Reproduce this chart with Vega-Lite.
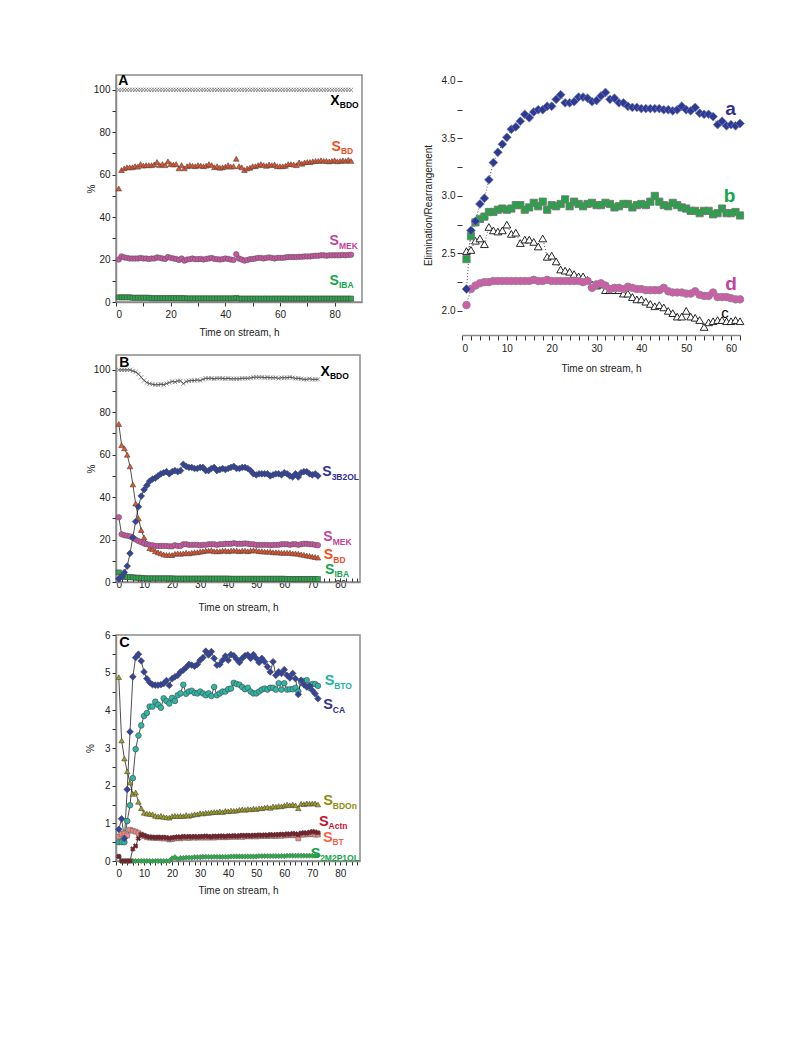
{
"$schema": "https://vega.github.io/schema/vega-lite/v6.json",
"padding": {"left": 84, "top": 72, "right": 5, "bottom": 5},
"background": "white",
"config": {
  "font": "Liberation Sans",
  "view": {"stroke": "#8a8a8a", "strokeWidth": 1.5},
  "axis": {"grid": false, "domainColor": "#8a8a8a", "domainWidth": 1.5, "tickColor": "#333", "labelFontSize": 10, "titleFontSize": 10, "titleFontWeight": "normal", "labelColor": "#222", "titleColor": "#222", "tickSize": 4, "labelFont": "Liberation Sans", "titleFont": "Liberation Sans"}
},
"datasets": {
"A": [
{"t":1,"X":100,"BD":53.5,"MEK":20,"IBA":2.2},{"t":2,"X":100,"BD":62.2,"MEK":21.5,"IBA":2.2},{"t":3,"X":100,"BD":63,"MEK":21,"IBA":2.2},{"t":4,"X":100,"BD":63.5,"MEK":20.8,"IBA":2.2},{"t":5,"X":100,"BD":63.5,"MEK":20.5,"IBA":2.2},
{"t":6,"X":100,"BD":63.5,"MEK":20.5,"IBA":2.0},{"t":7,"X":100,"BD":64,"MEK":20.5,"IBA":2.0},{"t":8,"X":100,"BD":63.8,"MEK":20.5,"IBA":2.0},{"t":9,"X":100,"BD":65,"MEK":20.8,"IBA":2.0},{"t":10,"X":100,"BD":64.3,"MEK":20.5,"IBA":2.0},
{"t":11,"X":100,"BD":64.5,"MEK":20.5,"IBA":2.0},{"t":12,"X":100,"BD":64.5,"MEK":20.3,"IBA":2.0},{"t":13,"X":100,"BD":64.5,"MEK":20.5,"IBA":1.8},{"t":14,"X":100,"BD":64.8,"MEK":20.5,"IBA":1.8},{"t":15,"X":100,"BD":66,"MEK":21,"IBA":1.8},
{"t":16,"X":100,"BD":64.5,"MEK":20.8,"IBA":1.8},{"t":17,"X":100,"BD":65,"MEK":20.5,"IBA":1.8},{"t":18,"X":100,"BD":64.5,"MEK":20.3,"IBA":1.8},{"t":19,"X":100,"BD":66.3,"MEK":21.2,"IBA":1.8},{"t":20,"X":100,"BD":65,"MEK":20.8,"IBA":1.8},
{"t":21,"X":100,"BD":64.8,"MEK":20.5,"IBA":1.8},{"t":22,"X":100,"BD":65,"MEK":20.3,"IBA":1.8},{"t":23,"X":100,"BD":63,"MEK":19.8,"IBA":1.8},{"t":24,"X":100,"BD":64.5,"MEK":20.5,"IBA":1.8},{"t":25,"X":100,"BD":63,"MEK":19.5,"IBA":1.8},
{"t":26,"X":100,"BD":64,"MEK":20,"IBA":1.7},{"t":27,"X":100,"BD":64.5,"MEK":20.2,"IBA":1.7},{"t":28,"X":100,"BD":64.2,"MEK":20.5,"IBA":1.7},{"t":29,"X":100,"BD":64,"MEK":20.2,"IBA":1.7},{"t":30,"X":100,"BD":64.5,"MEK":20.2,"IBA":1.7},
{"t":31,"X":100,"BD":64.3,"MEK":20.3,"IBA":1.7},{"t":32,"X":100,"BD":64,"MEK":20,"IBA":1.7},{"t":33,"X":100,"BD":64.3,"MEK":20.3,"IBA":1.7},{"t":34,"X":100,"BD":65,"MEK":20.5,"IBA":1.7},{"t":35,"X":100,"BD":64.5,"MEK":20.8,"IBA":1.7},
{"t":36,"X":100,"BD":63.5,"MEK":20.3,"IBA":1.7},{"t":37,"X":100,"BD":64,"MEK":20.2,"IBA":1.7},{"t":38,"X":100,"BD":63.3,"MEK":20,"IBA":1.7},{"t":39,"X":100,"BD":63.5,"MEK":20.2,"IBA":1.7},{"t":40,"X":100,"BD":63.8,"MEK":20.5,"IBA":1.7},
{"t":41,"X":100,"BD":64.5,"MEK":20.3,"IBA":1.7},{"t":42,"X":100,"BD":63.8,"MEK":20,"IBA":1.7},{"t":43,"X":100,"BD":64,"MEK":19.8,"IBA":1.7},{"t":44,"X":100,"BD":67.5,"MEK":22.5,"IBA":1.9},{"t":45,"X":100,"BD":64,"MEK":20.5,"IBA":1.6},
{"t":46,"X":100,"BD":63.5,"MEK":20,"IBA":1.6},{"t":47,"X":100,"BD":62.2,"MEK":19.5,"IBA":1.6},{"t":48,"X":100,"BD":63,"MEK":19.8,"IBA":1.6},{"t":49,"X":100,"BD":63.3,"MEK":20.2,"IBA":1.6},{"t":50,"X":100,"BD":64,"MEK":20.3,"IBA":1.6},
{"t":51,"X":100,"BD":64,"MEK":20.5,"IBA":1.6},{"t":52,"X":100,"BD":64.5,"MEK":20.8,"IBA":1.6},{"t":53,"X":100,"BD":65,"MEK":20.8,"IBA":1.6},{"t":54,"X":100,"BD":64.5,"MEK":20.5,"IBA":1.6},{"t":55,"X":100,"BD":64.2,"MEK":20.8,"IBA":1.6},
{"t":56,"X":100,"BD":64.8,"MEK":21,"IBA":1.6},{"t":57,"X":100,"BD":64.5,"MEK":20.8,"IBA":1.6},{"t":58,"X":100,"BD":64.8,"MEK":20.5,"IBA":1.6},{"t":59,"X":100,"BD":64,"MEK":20.8,"IBA":1.6},{"t":60,"X":100,"BD":64,"MEK":20.8,"IBA":1.6},
{"t":61,"X":100,"BD":64,"MEK":20.8,"IBA":1.6},{"t":62,"X":100,"BD":64.2,"MEK":21,"IBA":1.6},{"t":63,"X":100,"BD":65,"MEK":21.2,"IBA":1.6},{"t":64,"X":100,"BD":65,"MEK":21.2,"IBA":1.6},{"t":65,"X":100,"BD":64.8,"MEK":21.2,"IBA":1.6},
{"t":66,"X":100,"BD":64.5,"MEK":21.2,"IBA":1.6},{"t":67,"X":100,"BD":65.8,"MEK":21.3,"IBA":1.6},{"t":68,"X":100,"BD":65.2,"MEK":21.3,"IBA":1.6},{"t":69,"X":100,"BD":65.8,"MEK":21.5,"IBA":1.6},{"t":70,"X":100,"BD":66,"MEK":21.5,"IBA":1.6},
{"t":71,"X":100,"BD":66,"MEK":21.5,"IBA":1.6},{"t":72,"X":100,"BD":66.3,"MEK":21.7,"IBA":1.6},{"t":73,"X":100,"BD":66.5,"MEK":21.8,"IBA":1.6},{"t":74,"X":100,"BD":66.5,"MEK":21.8,"IBA":1.6},{"t":75,"X":100,"BD":66.8,"MEK":22,"IBA":1.6},
{"t":76,"X":100,"BD":66.5,"MEK":22,"IBA":1.6},{"t":77,"X":100,"BD":66.5,"MEK":21.8,"IBA":1.6},{"t":78,"X":100,"BD":66.3,"MEK":22,"IBA":1.6},{"t":79,"X":100,"BD":66.5,"MEK":22,"IBA":1.6},{"t":80,"X":100,"BD":66.8,"MEK":22,"IBA":1.6},
{"t":81,"X":100,"BD":66.3,"MEK":22,"IBA":1.6},{"t":82,"X":100,"BD":66.5,"MEK":22,"IBA":1.6},{"t":83,"X":100,"BD":66.8,"MEK":22.2,"IBA":1.6},{"t":84,"X":100,"BD":66.5,"MEK":22,"IBA":1.6},{"t":85,"X":100,"BD":67,"MEK":22.2,"IBA":1.6},
{"t":86,"X":100,"BD":66.5,"MEK":22.3,"IBA":1.6}
],
"B": [
{"t":1,"X":100,"BD":74.5,"MEK":30.5,"OL":1.5,"IBA":4.5},{"t":2,"X":100,"BD":64.5,"MEK":22.5,"OL":2.5,"IBA":2.5},{"t":3,"X":100,"BD":63,"MEK":22,"OL":4.5,"IBA":2.5},{"t":4,"X":100,"BD":60,"MEK":21.8,"OL":7.5,"IBA":2.3},{"t":5,"X":100,"BD":54.5,"MEK":21.5,"OL":13.5,"IBA":2.3},
{"t":6,"X":99.5,"BD":46,"MEK":20.8,"OL":21,"IBA":2.2},{"t":7,"X":99,"BD":37,"MEK":20,"OL":28.5,"IBA":2},{"t":8,"X":98,"BD":30,"MEK":19.3,"OL":35.5,"IBA":2},{"t":9,"X":96.5,"BD":24.5,"MEK":18.7,"OL":40.5,"IBA":1.9},{"t":10,"X":95,"BD":21,"MEK":18.2,"OL":43.5,"IBA":1.8},
{"t":11,"X":94,"BD":18,"MEK":17.8,"OL":45.5,"IBA":1.7},{"t":12,"X":93.5,"BD":16,"MEK":17.5,"OL":47.5,"IBA":1.7},{"t":13,"X":93.2,"BD":15.5,"MEK":17.3,"OL":48.5,"IBA":1.7},{"t":14,"X":93,"BD":14.5,"MEK":17,"OL":49,"IBA":1.7},{"t":15,"X":93,"BD":14,"MEK":17,"OL":50,"IBA":1.7},
{"t":16,"X":93.2,"BD":13.5,"MEK":17,"OL":51,"IBA":1.7},{"t":17,"X":93,"BD":13,"MEK":17,"OL":51.5,"IBA":1.7},{"t":18,"X":93.5,"BD":12.8,"MEK":17,"OL":52,"IBA":1.7},{"t":19,"X":94,"BD":12.8,"MEK":16.8,"OL":51,"IBA":1.7},{"t":20,"X":94.5,"BD":12.7,"MEK":16.8,"OL":52,"IBA":1.7},
{"t":21,"X":94.3,"BD":13.3,"MEK":17.3,"OL":52.5,"IBA":1.6},{"t":22,"X":94.8,"BD":13.5,"MEK":17,"OL":52,"IBA":1.6},{"t":23,"X":94.8,"BD":13.3,"MEK":17,"OL":52.5,"IBA":1.6},{"t":24,"X":93.5,"BD":13.5,"MEK":17.8,"OL":55.5,"IBA":1.6},{"t":25,"X":94.5,"BD":13.8,"MEK":17.8,"OL":54.5,"IBA":1.6},
{"t":26,"X":94.8,"BD":13.5,"MEK":17.5,"OL":54,"IBA":1.6},{"t":27,"X":95,"BD":13.8,"MEK":17.5,"OL":54,"IBA":1.6},{"t":28,"X":95,"BD":14,"MEK":17.5,"OL":53.5,"IBA":1.6},{"t":29,"X":95.2,"BD":14,"MEK":17.5,"OL":53.5,"IBA":1.6},{"t":30,"X":95,"BD":14.3,"MEK":17.3,"OL":54,"IBA":1.6},
{"t":31,"X":95.5,"BD":14.5,"MEK":17.5,"OL":54,"IBA":1.6},{"t":32,"X":96,"BD":14.8,"MEK":17.5,"OL":52.5,"IBA":1.6},{"t":33,"X":96,"BD":14.8,"MEK":17.8,"OL":52.5,"IBA":1.6},{"t":34,"X":96,"BD":15,"MEK":17.8,"OL":53.5,"IBA":1.6},{"t":35,"X":95.8,"BD":14.5,"MEK":17.8,"OL":54,"IBA":1.6},
{"t":36,"X":96,"BD":14.5,"MEK":17.5,"OL":52.5,"IBA":1.6},{"t":37,"X":96,"BD":14.5,"MEK":17.8,"OL":53,"IBA":1.6},{"t":38,"X":96,"BD":14.8,"MEK":17.8,"OL":53.5,"IBA":1.6},{"t":39,"X":95.8,"BD":14.8,"MEK":18,"OL":53,"IBA":1.6},{"t":40,"X":96,"BD":14.5,"MEK":18,"OL":53.5,"IBA":1.6},
{"t":41,"X":95.8,"BD":14.8,"MEK":18,"OL":54,"IBA":1.5},{"t":42,"X":95.8,"BD":14.8,"MEK":18.3,"OL":54.5,"IBA":1.5},{"t":43,"X":95.8,"BD":14.8,"MEK":18,"OL":53.5,"IBA":1.5},{"t":44,"X":95.8,"BD":14.5,"MEK":18,"OL":53.5,"IBA":1.5},{"t":45,"X":96,"BD":14.8,"MEK":18,"OL":54,"IBA":1.5},
{"t":46,"X":96,"BD":14.8,"MEK":18.2,"OL":54,"IBA":1.5},{"t":47,"X":96,"BD":14.5,"MEK":18,"OL":53.5,"IBA":1.5},{"t":48,"X":96.2,"BD":14.8,"MEK":17.8,"OL":52.5,"IBA":1.5},{"t":49,"X":96.5,"BD":15,"MEK":17.8,"OL":51,"IBA":1.5},{"t":50,"X":96.5,"BD":14.8,"MEK":17.5,"OL":50.5,"IBA":1.5},
{"t":51,"X":96.5,"BD":14.5,"MEK":17.5,"OL":51,"IBA":1.5},{"t":52,"X":96.5,"BD":14.5,"MEK":17.5,"OL":51,"IBA":1.5},{"t":53,"X":96.3,"BD":14.3,"MEK":17.5,"OL":51,"IBA":1.5},{"t":54,"X":96.5,"BD":14.3,"MEK":17.5,"OL":51,"IBA":1.5},{"t":55,"X":96.3,"BD":14.3,"MEK":17.3,"OL":50,"IBA":1.5},
{"t":56,"X":96.3,"BD":14,"MEK":17.5,"OL":50.5,"IBA":1.5},{"t":57,"X":96.3,"BD":14,"MEK":17.5,"OL":51,"IBA":1.5},{"t":58,"X":96,"BD":14,"MEK":17.5,"OL":51,"IBA":1.5},{"t":59,"X":96.3,"BD":13.8,"MEK":17.8,"OL":50.5,"IBA":1.5},{"t":60,"X":96.3,"BD":13.8,"MEK":17.8,"OL":51.5,"IBA":1.5},
{"t":61,"X":96.3,"BD":13.8,"MEK":17.8,"OL":51,"IBA":1.4},{"t":62,"X":96.5,"BD":13.8,"MEK":17.5,"OL":50,"IBA":1.4},{"t":63,"X":96.3,"BD":13.5,"MEK":17.8,"OL":49.5,"IBA":1.4},{"t":64,"X":96,"BD":13.5,"MEK":17.8,"OL":51,"IBA":1.4},{"t":65,"X":96,"BD":13.3,"MEK":17.5,"OL":49.5,"IBA":1.4},
{"t":66,"X":95.8,"BD":13,"MEK":17.8,"OL":51.5,"IBA":1.4},{"t":67,"X":95.5,"BD":12.8,"MEK":18,"OL":52,"IBA":1.4},{"t":68,"X":95.5,"BD":12.5,"MEK":18,"OL":52,"IBA":1.4},{"t":69,"X":95.8,"BD":12.3,"MEK":17.8,"OL":51,"IBA":1.4},{"t":70,"X":95.5,"BD":12,"MEK":17.8,"OL":50.5,"IBA":1.4},
{"t":71,"X":95.5,"BD":11.8,"MEK":17.5,"OL":51,"IBA":1.4},{"t":72,"X":95.5,"BD":11.5,"MEK":17.3,"OL":50,"IBA":1.4}
],
"C": [
{"t":1,"CA":0.84,"BTO":0.5,"BDOn":4.88,"Actn":0.12,"BT":0.65,"M2":0.12},{"t":2,"CA":1.12,"BTO":0.5,"BDOn":3.2,"Actn":0,"BT":0.72,"M2":0},{"t":3,"CA":0.6,"BTO":0.5,"BDOn":2.72,"Actn":0,"BT":0.73,"M2":0},{"t":4,"CA":1.9,"BTO":1.06,"BDOn":2.38,"Actn":0,"BT":0.68,"M2":0},{"t":5,"CA":3.43,"BTO":1.48,"BDOn":2.08,"Actn":0,"BT":0.83,"M2":0},
{"t":6,"CA":4.89,"BTO":2.2,"BDOn":1.78,"Actn":0.32,"BT":0.8,"M2":0},{"t":7,"CA":5.4,"BTO":2.97,"BDOn":1.82,"Actn":0.4,"BT":0.78,"M2":0},{"t":8,"CA":5.49,"BTO":3.33,"BDOn":1.57,"Actn":0.6,"BT":0.74,"M2":0},{"t":9,"CA":5.31,"BTO":3.6,"BDOn":1.4,"Actn":0.7,"BT":0.7,"M2":0},{"t":10,"CA":5.02,"BTO":3.85,"BDOn":1.28,"Actn":0.68,"BT":0.66,"M2":0},
{"t":11,"CA":4.84,"BTO":3.93,"BDOn":1.26,"Actn":0.65,"BT":0.63,"M2":0},{"t":12,"CA":4.74,"BTO":4.1,"BDOn":1.25,"Actn":0.63,"BT":0.62,"M2":0},{"t":13,"CA":4.68,"BTO":4.1,"BDOn":1.24,"Actn":0.63,"BT":0.62,"M2":0},{"t":14,"CA":4.67,"BTO":4.23,"BDOn":1.2,"Actn":0.62,"BT":0.61,"M2":0},{"t":15,"CA":4.67,"BTO":4.15,"BDOn":1.18,"Actn":0.63,"BT":0.62,"M2":0},
{"t":16,"CA":4.68,"BTO":4.07,"BDOn":1.2,"Actn":0.62,"BT":0.6,"M2":0},{"t":17,"CA":4.71,"BTO":4.32,"BDOn":1.17,"Actn":0.63,"BT":0.6,"M2":0},{"t":18,"CA":4.79,"BTO":4.25,"BDOn":1.16,"Actn":0.62,"BT":0.6,"M2":0},{"t":19,"CA":4.66,"BTO":4.18,"BDOn":1.15,"Actn":0.6,"BT":0.57,"M2":0},{"t":20,"CA":4.84,"BTO":4.33,"BDOn":1.19,"Actn":0.62,"BT":0.58,"M2":0.07},
{"t":21,"CA":4.89,"BTO":4.25,"BDOn":1.2,"Actn":0.63,"BT":0.6,"M2":0.1},{"t":22,"CA":4.93,"BTO":4.4,"BDOn":1.19,"Actn":0.64,"BT":0.61,"M2":0.05},{"t":23,"CA":5.02,"BTO":4.45,"BDOn":1.2,"Actn":0.63,"BT":0.6,"M2":0.08},{"t":24,"CA":5.07,"BTO":4.68,"BDOn":1.19,"Actn":0.65,"BT":0.62,"M2":0.08},{"t":25,"CA":5.14,"BTO":4.44,"BDOn":1.22,"Actn":0.64,"BT":0.62,"M2":0.09},
{"t":26,"CA":5.22,"BTO":4.5,"BDOn":1.2,"Actn":0.65,"BT":0.61,"M2":0.09},{"t":27,"CA":5.2,"BTO":4.52,"BDOn":1.22,"Actn":0.64,"BT":0.63,"M2":0.09},{"t":28,"CA":5.17,"BTO":4.46,"BDOn":1.24,"Actn":0.65,"BT":0.62,"M2":0.1},{"t":29,"CA":5.22,"BTO":4.45,"BDOn":1.24,"Actn":0.64,"BT":0.62,"M2":0.1},{"t":30,"CA":5.33,"BTO":4.5,"BDOn":1.27,"Actn":0.65,"BT":0.63,"M2":0.1},
{"t":31,"CA":5.4,"BTO":4.45,"BDOn":1.26,"Actn":0.65,"BT":0.62,"M2":0.11},{"t":32,"CA":5.57,"BTO":4.4,"BDOn":1.28,"Actn":0.66,"BT":0.63,"M2":0.11},{"t":33,"CA":5.47,"BTO":4.45,"BDOn":1.28,"Actn":0.65,"BT":0.62,"M2":0.11},{"t":34,"CA":5.56,"BTO":4.38,"BDOn":1.29,"Actn":0.64,"BT":0.63,"M2":0.11},{"t":35,"CA":5.38,"BTO":4.62,"BDOn":1.3,"Actn":0.66,"BT":0.62,"M2":0.11},
{"t":36,"CA":5.2,"BTO":4.4,"BDOn":1.3,"Actn":0.65,"BT":0.64,"M2":0.11},{"t":37,"CA":5.22,"BTO":4.45,"BDOn":1.32,"Actn":0.66,"BT":0.63,"M2":0.11},{"t":38,"CA":5.33,"BTO":4.5,"BDOn":1.3,"Actn":0.66,"BT":0.64,"M2":0.11},{"t":39,"CA":5.44,"BTO":4.5,"BDOn":1.33,"Actn":0.65,"BT":0.63,"M2":0.11},{"t":40,"CA":5.33,"BTO":4.56,"BDOn":1.32,"Actn":0.67,"BT":0.64,"M2":0.11},
{"t":41,"CA":5.48,"BTO":4.58,"BDOn":1.34,"Actn":0.66,"BT":0.64,"M2":0.12},{"t":42,"CA":5.45,"BTO":4.73,"BDOn":1.33,"Actn":0.67,"BT":0.65,"M2":0.12},{"t":43,"CA":5.36,"BTO":4.7,"BDOn":1.34,"Actn":0.66,"BT":0.64,"M2":0.12},{"t":44,"CA":5.27,"BTO":4.68,"BDOn":1.36,"Actn":0.67,"BT":0.65,"M2":0.12},{"t":45,"CA":5.38,"BTO":4.62,"BDOn":1.37,"Actn":0.68,"BT":0.64,"M2":0.12},
{"t":46,"CA":5.45,"BTO":4.56,"BDOn":1.36,"Actn":0.67,"BT":0.65,"M2":0.12},{"t":47,"CA":5.47,"BTO":4.6,"BDOn":1.38,"Actn":0.68,"BT":0.66,"M2":0.12},{"t":48,"CA":5.38,"BTO":4.5,"BDOn":1.37,"Actn":0.67,"BT":0.65,"M2":0.12},{"t":49,"CA":5.48,"BTO":4.45,"BDOn":1.39,"Actn":0.68,"BT":0.66,"M2":0.12},{"t":50,"CA":5.38,"BTO":4.45,"BDOn":1.38,"Actn":0.68,"BT":0.65,"M2":0.12},
{"t":51,"CA":5.27,"BTO":4.5,"BDOn":1.4,"Actn":0.69,"BT":0.66,"M2":0.13},{"t":52,"CA":5.38,"BTO":4.55,"BDOn":1.4,"Actn":0.68,"BT":0.66,"M2":0.13},{"t":53,"CA":5.29,"BTO":4.58,"BDOn":1.42,"Actn":0.69,"BT":0.67,"M2":0.13},{"t":54,"CA":5.16,"BTO":4.55,"BDOn":1.43,"Actn":0.68,"BT":0.66,"M2":0.13},{"t":55,"CA":5.02,"BTO":4.6,"BDOn":1.41,"Actn":0.7,"BT":0.67,"M2":0.13},
{"t":56,"CA":5.29,"BTO":4.6,"BDOn":1.45,"Actn":0.69,"BT":0.67,"M2":0.13},{"t":57,"CA":4.93,"BTO":4.55,"BDOn":1.44,"Actn":0.7,"BT":0.66,"M2":0.13},{"t":58,"CA":5.02,"BTO":4.72,"BDOn":1.46,"Actn":0.7,"BT":0.68,"M2":0.13},{"t":59,"CA":4.98,"BTO":4.55,"BDOn":1.45,"Actn":0.71,"BT":0.67,"M2":0.13},{"t":60,"CA":5.08,"BTO":4.72,"BDOn":1.47,"Actn":0.7,"BT":0.68,"M2":0.13},
{"t":61,"CA":4.93,"BTO":4.55,"BDOn":1.5,"Actn":0.72,"BT":0.68,"M2":0.14},{"t":62,"CA":4.86,"BTO":4.56,"BDOn":1.48,"Actn":0.71,"BT":0.69,"M2":0.14},{"t":63,"CA":4.98,"BTO":4.56,"BDOn":1.5,"Actn":0.73,"BT":0.68,"M2":0.14},{"t":64,"CA":4.84,"BTO":4.6,"BDOn":1.48,"Actn":0.72,"BT":0.69,"M2":0.14},{"t":65,"CA":4.42,"BTO":4.5,"BDOn":1.4,"Actn":0.7,"BT":0.6,"M2":0.14},
{"t":66,"CA":4.8,"BTO":4.75,"BDOn":1.52,"Actn":0.74,"BT":0.7,"M2":0.14},{"t":67,"CA":4.68,"BTO":4.78,"BDOn":1.51,"Actn":0.75,"BT":0.7,"M2":0.14},{"t":68,"CA":4.62,"BTO":4.8,"BDOn":1.53,"Actn":0.74,"BT":0.71,"M2":0.14},{"t":69,"CA":4.65,"BTO":4.6,"BDOn":1.52,"Actn":0.76,"BT":0.71,"M2":0.14},{"t":70,"CA":4.53,"BTO":4.7,"BDOn":1.53,"Actn":0.78,"BT":0.72,"M2":0.14},
{"t":71,"CA":4.44,"BTO":4.7,"BDOn":1.53,"Actn":0.77,"BT":0.7,"M2":0.14},{"t":72,"CA":4.31,"BTO":4.65,"BDOn":1.5,"Actn":0.75,"BT":0.7,"M2":0.15}
],
"D": [
{"t":1,"a":2.19,"b":2.45,"c":2.52,"d":2.05},{"t":2,"a":2.7,"b":2.65,"c":2.53,"d":2.19},{"t":3,"a":2.78,"b":2.77,"c":2.61,"d":2.22},{"t":4,"a":2.93,"b":2.8,"c":2.63,"d":2.24},{"t":5,"a":2.98,"b":2.82,"c":2.58,"d":2.25},
{"t":6,"a":3.14,"b":2.86,"c":2.73,"d":2.25},{"t":7,"a":3.29,"b":2.86,"c":2.7,"d":2.26},{"t":8,"a":3.38,"b":2.88,"c":2.69,"d":2.26},{"t":9,"a":3.45,"b":2.89,"c":2.7,"d":2.26},{"t":10,"a":3.51,"b":2.88,"c":2.75,"d":2.26},
{"t":11,"a":3.58,"b":2.89,"c":2.67,"d":2.26},{"t":12,"a":3.6,"b":2.92,"c":2.68,"d":2.26},{"t":13,"a":3.65,"b":2.92,"c":2.59,"d":2.26},{"t":14,"a":3.71,"b":2.88,"c":2.62,"d":2.26},{"t":15,"a":3.68,"b":2.9,"c":2.62,"d":2.26},
{"t":16,"a":3.73,"b":2.94,"c":2.6,"d":2.27},{"t":17,"a":3.75,"b":2.91,"c":2.56,"d":2.26},{"t":18,"a":3.75,"b":2.95,"c":2.63,"d":2.26},{"t":19,"a":3.78,"b":2.88,"c":2.47,"d":2.27},{"t":20,"a":3.78,"b":2.92,"c":2.48,"d":2.26},
{"t":21,"a":3.84,"b":2.91,"c":2.43,"d":2.26},{"t":22,"a":3.88,"b":2.93,"c":2.36,"d":2.26},{"t":23,"a":3.81,"b":2.97,"c":2.35,"d":2.26},{"t":24,"a":3.81,"b":2.91,"c":2.34,"d":2.26},{"t":25,"a":3.82,"b":2.95,"c":2.32,"d":2.26},
{"t":26,"a":3.86,"b":2.93,"c":2.3,"d":2.26},{"t":27,"a":3.86,"b":2.91,"c":2.3,"d":2.25},{"t":28,"a":3.85,"b":2.93,"c":2.27,"d":2.26},{"t":29,"a":3.82,"b":2.94,"c":2.23,"d":2.2},{"t":30,"a":3.83,"b":2.92,"c":2.22,"d":2.23},
{"t":31,"a":3.87,"b":2.92,"c":2.23,"d":2.24},{"t":32,"a":3.9,"b":2.94,"c":2.18,"d":2.22},{"t":33,"a":3.84,"b":2.93,"c":2.18,"d":2.19},{"t":34,"a":3.85,"b":2.9,"c":2.18,"d":2.2},{"t":35,"a":3.81,"b":2.91,"c":2.18,"d":2.2},
{"t":36,"a":3.81,"b":2.93,"c":2.15,"d":2.19},{"t":37,"a":3.78,"b":2.93,"c":2.15,"d":2.21},{"t":38,"a":3.77,"b":2.9,"c":2.12,"d":2.2},{"t":39,"a":3.77,"b":2.92,"c":2.1,"d":2.19},{"t":40,"a":3.76,"b":2.93,"c":2.1,"d":2.19},
{"t":41,"a":3.76,"b":2.92,"c":2.08,"d":2.18},{"t":42,"a":3.76,"b":2.95,"c":2.06,"d":2.18},{"t":43,"a":3.76,"b":3.0,"c":2.04,"d":2.18},{"t":44,"a":3.76,"b":2.95,"c":2.05,"d":2.18},{"t":45,"a":3.75,"b":2.92,"c":2.03,"d":2.2},
{"t":46,"a":3.75,"b":2.91,"c":2.0,"d":2.17},{"t":47,"a":3.74,"b":2.94,"c":1.98,"d":2.16},{"t":48,"a":3.75,"b":2.92,"c":1.95,"d":2.16},{"t":49,"a":3.78,"b":2.9,"c":1.95,"d":2.16},{"t":50,"a":3.75,"b":2.89,"c":2.0,"d":2.15},
{"t":51,"a":3.74,"b":2.87,"c":1.95,"d":2.15},{"t":52,"a":3.77,"b":2.87,"c":1.94,"d":2.17},{"t":53,"a":3.72,"b":2.85,"c":1.92,"d":2.14},{"t":54,"a":3.71,"b":2.87,"c":1.86,"d":2.13},{"t":55,"a":3.71,"b":2.87,"c":1.9,"d":2.13},
{"t":56,"a":3.69,"b":2.84,"c":1.91,"d":2.16},{"t":57,"a":3.62,"b":2.85,"c":1.92,"d":2.12},{"t":58,"a":3.65,"b":2.89,"c":1.92,"d":2.12},{"t":59,"a":3.61,"b":2.85,"c":1.91,"d":2.12},{"t":60,"a":3.62,"b":2.85,"c":1.91,"d":2.11},
{"t":61,"a":3.61,"b":2.86,"c":1.92,"d":2.1},{"t":62,"a":3.63,"b":2.83,"c":1.91,"d":2.1}
],
"labels": [
{"p":"A","name":"K","main":"A","sub":"","t":0.8,"value":104.3},
{"p":"A","name":"XBDO","main":"X","sub":"BDO","t":78.4,"value":94.9},
{"p":"A","name":"BD","main":"S","sub":"BD","t":78.8,"value":73.2},
{"p":"A","name":"MEK","main":"S","sub":"MEK","t":78.1,"value":28.6},
{"p":"A","name":"IBA","main":"S","sub":"IBA","t":78.1,"value":10.1},
{"p":"B","name":"K","main":"B","sub":"","t":1.2,"value":103.3},
{"p":"B","name":"XBDO","main":"X","sub":"BDO","t":72.9,"value":99.2},
{"p":"B","name":"OL","main":"S","sub":"3B2OL","t":73.5,"value":51.7},
{"p":"B","name":"MEK","main":"S","sub":"MEK","t":73.9,"value":21.2},
{"p":"B","name":"BD","main":"S","sub":"BD","t":74.1,"value":12.7},
{"p":"B","name":"IBA","main":"S","sub":"IBA","t":74.5,"value":5.8},
{"p":"C","name":"K","main":"C","sub":"","t":1.2,"value":5.8},
{"p":"C","name":"BTO","main":"S","sub":"BTO","t":74.4,"value":4.77},
{"p":"C","name":"CA","main":"S","sub":"CA","t":73.9,"value":4.13},
{"p":"C","name":"BDOn","main":"S","sub":"BDOn","t":73.9,"value":1.58},
{"p":"C","name":"Actn","main":"S","sub":"Actn","t":72.4,"value":1.04},
{"p":"C","name":"BT","main":"S","sub":"BT","t":73.8,"value":0.62},
{"p":"C","name":"M2","main":"S","sub":"2M2P1OL","t":69.4,"value":0.195},
{"p":"D","name":"a","main":"a","sub":"","t":58.7,"value":3.76},
{"p":"D","name":"b","main":"b","sub":"","t":58.4,"value":3.0},
{"p":"D","name":"d","main":"d","sub":"","t":58.7,"value":2.23},
{"p":"D","name":"c","main":"c","sub":"","t":57.8,"value":1.985}
]
},
"concat": [
{
"vconcat": [
{
"width": 246, "height": 227,
"data": {"name": "A"},
"encoding": {
  "x": {"field": "t", "type": "quantitative", "title": "Time on stream, h", "scale": {"domain": [0, 90], "nice": false}, "axis": {"values": [0,10,20,30,40,50,60,70,80], "labelExpr": "datum.value % 20 == 0 ? datum.label : ''", "labelPadding": 3, "titlePadding": 8}},
  "y": {"field": "value", "type": "quantitative", "title": "%", "scale": {"domain": [0, 107], "nice": false}, "axis": {"values": [0,10,20,30,40,50,60,70,80,90,100], "labelExpr": "datum.value % 20 == 0 ? datum.label : ''", "labelPadding": 2, "titlePadding": -3}}
},
"layer": [
  {"transform": [{"fold": ["X"]}], "mark": {"type": "point", "shape": "M-1,-1L1,1M-1,1L1,-1", "filled": false, "stroke": "#555", "strokeWidth": 0.9, "size": 18}},
  {"transform": [{"fold": ["BD"]}], "mark": {"type": "point", "shape": "triangle-up", "filled": true, "fill": "#e8532a", "stroke": "#444", "strokeWidth": 0.6, "size": 32, "opacity": 1}},
  {"transform": [{"fold": ["MEK"]}], "mark": {"type": "point", "shape": "circle", "filled": true, "fill": "#cc55a3", "stroke": "#555", "strokeWidth": 0.6, "size": 30, "opacity": 1}},
  {"transform": [{"fold": ["IBA"]}], "mark": {"type": "point", "shape": "square", "filled": true, "fill": "#2aa84a", "stroke": "#444", "strokeWidth": 0.6, "size": 25, "opacity": 1}},
  {"data": {"name": "labels"}, "transform": [{"filter": "datum.p == 'A'"}], "mark": {"type": "text", "align": "left", "baseline": "middle", "fontSize": 14, "fontWeight": "bold"}, "encoding": {"text": {"field": "main"}, "color": {"field": "name", "type": "nominal", "legend": null, "scale": {"domain": ["K","XBDO","BD","MEK","IBA","OL","BTO","CA","BDOn","Actn","BT","M2","a","b","c","d"], "range": ["#000000","#000000","#f04e23","#c2439a","#13a54a","#2e3192","#21b3a3","#2e3192","#8f8c0e","#c41230","#f26449","#13a54a","#2e3192","#13a54a","#000000","#c2439a"]}}}},
  {"data": {"name": "labels"}, "transform": [{"filter": "datum.p == 'A'"}], "mark": {"type": "text", "align": "left", "baseline": "middle", "fontSize": 8.5, "fontWeight": "bold", "dx": 9.5, "dy": 4.5}, "encoding": {"text": {"field": "sub"}, "color": {"field": "name", "type": "nominal", "legend": null, "scale": {"domain": ["K","XBDO","BD","MEK","IBA","OL","BTO","CA","BDOn","Actn","BT","M2","a","b","c","d"], "range": ["#000000","#000000","#f04e23","#c2439a","#13a54a","#2e3192","#21b3a3","#2e3192","#8f8c0e","#c41230","#f26449","#13a54a","#2e3192","#13a54a","#000000","#c2439a"]}}}}
]
},
{
"width": 244, "height": 227,
"data": {"name": "B"},
"encoding": {
  "x": {"field": "t", "type": "quantitative", "title": "Time on stream, h", "scale": {"domain": [0, 87], "nice": false}, "axis": {"values": [0,2,4,6,8,10,12,14,16,18,20,22,24,26,28,30,32,34,36,38,40,42,44,46,48,50,52,54,56,58,60,62,64,66,68,70,72,74,76,78,80,82,84,86], "labelExpr": "datum.value % 10 == 0 ? datum.label : ''", "tickSize": -4, "labelPadding": 1, "titlePadding": 13}},
  "y": {"field": "value", "type": "quantitative", "title": "%", "scale": {"domain": [0, 107], "nice": false}, "axis": {"values": [0,10,20,30,40,50,60,70,80,90,100], "labelExpr": "datum.value % 20 == 0 ? datum.label : ''", "labelPadding": 2, "titlePadding": -3}}
},
"layer": [
  {"transform": [{"fold": ["X"]}], "mark": {"type": "line", "color": "#222", "strokeWidth": 0.8}},
  {"transform": [{"fold": ["BD"]}], "mark": {"type": "line", "color": "#222", "strokeWidth": 0.8}},
  {"transform": [{"fold": ["MEK"]}], "mark": {"type": "line", "color": "#222", "strokeWidth": 0.8}},
  {"transform": [{"fold": ["OL"]}], "mark": {"type": "line", "color": "#222", "strokeWidth": 0.8}},
  {"transform": [{"fold": ["IBA"]}], "mark": {"type": "line", "color": "#222", "strokeWidth": 0.8}},
  {"transform": [{"fold": ["X"]}], "mark": {"type": "point", "shape": "M-1,-1L1,1M-1,1L1,-1", "filled": false, "stroke": "#555", "strokeWidth": 0.9, "size": 18}},
  {"transform": [{"fold": ["IBA"]}], "mark": {"type": "point", "shape": "square", "filled": true, "fill": "#2aa84a", "stroke": "#444", "strokeWidth": 0.6, "size": 26, "opacity": 1}},
  {"transform": [{"fold": ["BD"]}], "mark": {"type": "point", "shape": "triangle-up", "filled": true, "fill": "#e8532a", "stroke": "#444", "strokeWidth": 0.6, "size": 32, "opacity": 1}},
  {"transform": [{"fold": ["MEK"]}], "mark": {"type": "point", "shape": "circle", "filled": true, "fill": "#cc55a3", "stroke": "#555", "strokeWidth": 0.6, "size": 30, "opacity": 1}},
  {"transform": [{"fold": ["OL"]}], "mark": {"type": "point", "shape": "diamond", "filled": true, "fill": "#33449e", "stroke": "#444", "strokeWidth": 0.6, "size": 45, "opacity": 1}},
  {"data": {"name": "labels"}, "transform": [{"filter": "datum.p == 'B'"}], "mark": {"type": "text", "align": "left", "baseline": "middle", "fontSize": 14, "fontWeight": "bold"}, "encoding": {"text": {"field": "main"}, "color": {"field": "name", "type": "nominal", "legend": null, "scale": {"domain": ["K","XBDO","BD","MEK","IBA","OL","BTO","CA","BDOn","Actn","BT","M2","a","b","c","d"], "range": ["#000000","#000000","#f04e23","#c2439a","#13a54a","#2e3192","#21b3a3","#2e3192","#8f8c0e","#c41230","#f26449","#13a54a","#2e3192","#13a54a","#000000","#c2439a"]}}}},
  {"data": {"name": "labels"}, "transform": [{"filter": "datum.p == 'B'"}], "mark": {"type": "text", "align": "left", "baseline": "middle", "fontSize": 8.5, "fontWeight": "bold", "dx": 9.5, "dy": 4.5}, "encoding": {"text": {"field": "sub"}, "color": {"field": "name", "type": "nominal", "legend": null, "scale": {"domain": ["K","XBDO","BD","MEK","IBA","OL","BTO","CA","BDOn","Actn","BT","M2","a","b","c","d"], "range": ["#000000","#000000","#f04e23","#c2439a","#13a54a","#2e3192","#21b3a3","#2e3192","#8f8c0e","#c41230","#f26449","#13a54a","#2e3192","#13a54a","#000000","#c2439a"]}}}}
]
},
{
"width": 244, "height": 226,
"data": {"name": "C"},
"encoding": {
  "x": {"field": "t", "type": "quantitative", "title": "Time on stream, h", "scale": {"domain": [0, 87], "nice": false}, "axis": {"values": [0,2,4,6,8,10,12,14,16,18,20,22,24,26,28,30,32,34,36,38,40,42,44,46,48,50,52,54,56,58,60,62,64,66,68,70,72,74,76,78,80,82,84,86], "labelExpr": "datum.value % 10 == 0 ? datum.label : ''", "labelPadding": 3, "titlePadding": 7}},
  "y": {"field": "value", "type": "quantitative", "title": "%", "scale": {"domain": [0, 6], "nice": false}, "axis": {"values": [0,0.5,1,1.5,2,2.5,3,3.5,4,4.5,5,5.5,6], "format": ".0f", "labelExpr": "datum.value % 1 == 0 ? datum.label : ''", "labelPadding": 2, "titlePadding": 9}}
},
"layer": [
  {"transform": [{"fold": ["CA"]}], "mark": {"type": "line", "color": "#222", "strokeWidth": 0.8}},
  {"transform": [{"fold": ["BTO"]}], "mark": {"type": "line", "color": "#222", "strokeWidth": 0.8}},
  {"transform": [{"fold": ["BDOn"]}], "mark": {"type": "line", "color": "#222", "strokeWidth": 0.8}},
  {"transform": [{"fold": ["Actn"]}], "mark": {"type": "line", "color": "#222", "strokeWidth": 0.8}},
  {"transform": [{"fold": ["BT"]}], "mark": {"type": "line", "color": "#222", "strokeWidth": 0.8}},
  {"transform": [{"fold": ["M2"]}], "mark": {"type": "line", "color": "#222", "strokeWidth": 0.8}},
  {"transform": [{"fold": ["M2"]}], "mark": {"type": "point", "shape": "diamond", "filled": true, "fill": "#2ab34b", "stroke": "#555", "strokeWidth": 0.5, "size": 28, "opacity": 1}},
  {"transform": [{"fold": ["BT"]}], "mark": {"type": "point", "shape": "square", "filled": true, "fill": "#f08a84", "stroke": "#555", "strokeWidth": 0.5, "size": 24, "opacity": 1}},
  {"transform": [{"fold": ["Actn"]}], "mark": {"type": "point", "shape": "cross", "angle": 45, "filled": true, "fill": "#7a1f2b", "stroke": "#444", "strokeWidth": 0.4, "size": 26, "opacity": 1}},
  {"transform": [{"fold": ["BDOn"]}], "mark": {"type": "point", "shape": "triangle-up", "filled": true, "fill": "#a3a11c", "stroke": "#444", "strokeWidth": 0.6, "size": 30, "opacity": 1}},
  {"transform": [{"fold": ["BTO"]}], "mark": {"type": "point", "shape": "circle", "filled": true, "fill": "#2db7a6", "stroke": "#444", "strokeWidth": 0.6, "size": 32, "opacity": 1}},
  {"transform": [{"fold": ["CA"]}], "mark": {"type": "point", "shape": "diamond", "filled": true, "fill": "#33449e", "stroke": "#444", "strokeWidth": 0.6, "size": 45, "opacity": 1}},
  {"data": {"name": "labels"}, "transform": [{"filter": "datum.p == 'C'"}], "mark": {"type": "text", "align": "left", "baseline": "middle", "fontSize": 14.5, "fontWeight": "bold"}, "encoding": {"text": {"field": "main"}, "color": {"field": "name", "type": "nominal", "legend": null, "scale": {"domain": ["K","XBDO","BD","MEK","IBA","OL","BTO","CA","BDOn","Actn","BT","M2","a","b","c","d"], "range": ["#000000","#000000","#f04e23","#c2439a","#13a54a","#2e3192","#21b3a3","#2e3192","#8f8c0e","#c41230","#f26449","#13a54a","#2e3192","#13a54a","#000000","#c2439a"]}}}},
  {"data": {"name": "labels"}, "transform": [{"filter": "datum.p == 'C'"}], "mark": {"type": "text", "align": "left", "baseline": "middle", "fontSize": 8.5, "fontWeight": "bold", "dx": 9.5, "dy": 4.5}, "encoding": {"text": {"field": "sub"}, "color": {"field": "name", "type": "nominal", "legend": null, "scale": {"domain": ["K","XBDO","BD","MEK","IBA","OL","BTO","CA","BDOn","Actn","BT","M2","a","b","c","d"], "range": ["#000000","#000000","#f04e23","#c2439a","#13a54a","#2e3192","#21b3a3","#2e3192","#8f8c0e","#c41230","#f26449","#13a54a","#2e3192","#13a54a","#000000","#c2439a"]}}}}
]
}
],
"spacing": 16
},
{
"width": 278, "height": 260,
"view": {"stroke": null},
"data": {"name": "D"},
"encoding": {
  "x": {"field": "t", "type": "quantitative", "title": "Time on stream, h", "scale": {"domain": [0, 62], "nice": false}, "axis": {"values": [0,2,4,6,8,10,12,14,16,18,20,22,24,26,28,30,32,34,36,38,40,42,44,46,48,50,52,54,56,58,60,62], "labelExpr": "datum.value % 10 == 0 ? datum.label : ''", "tickSize": 5, "labelPadding": 3, "titlePadding": 10}},
  "y": {"field": "value", "type": "quantitative", "title": "Elimination/Rearrangement", "scale": {"domain": [1.79, 4.052], "nice": false, "zero": false}, "axis": {"values": [2,2.25,2.5,2.75,3,3.25,3.5,3.75,4], "format": ".1f", "labelExpr": "(datum.value*100) % 50 == 0 ? datum.label : ''", "tickSize": 5, "labelPadding": 2, "titlePadding": 8, "domain": false}}
},
"layer": [
  {"data": {"values": [{}]}, "mark": {"type": "rule", "color": "#8a8a8a", "strokeWidth": 1.5}, "encoding": {"x": {"datum": 0, "type": "quantitative"}, "y": {"datum": 1.79, "type": "quantitative"}, "y2": {"datum": 4.0}}},
  {"transform": [{"fold": ["a"]}], "mark": {"type": "line", "color": "#555", "strokeWidth": 1, "strokeDash": [1, 2]}},
  {"transform": [{"fold": ["b"]}], "mark": {"type": "line", "color": "#555", "strokeWidth": 1, "strokeDash": [1, 2]}},
  {"transform": [{"fold": ["c"]}], "mark": {"type": "line", "color": "#555", "strokeWidth": 1, "strokeDash": [1, 2]}},
  {"transform": [{"fold": ["d"]}], "mark": {"type": "line", "color": "#555", "strokeWidth": 1, "strokeDash": [1, 2]}},
  {"transform": [{"fold": ["c"]}], "mark": {"type": "point", "shape": "triangle-up", "filled": true, "fill": "#ffffff", "stroke": "#111", "strokeWidth": 0.9, "size": 60, "opacity": 1}},
  {"transform": [{"fold": ["d"]}], "mark": {"type": "point", "shape": "circle", "filled": true, "fill": "#d35aaa", "stroke": "#888", "strokeWidth": 0.8, "size": 58, "opacity": 1}},
  {"transform": [{"fold": ["b"]}], "mark": {"type": "point", "shape": "square", "filled": true, "fill": "#25a347", "stroke": "#777", "strokeWidth": 0.9, "size": 52, "opacity": 1}},
  {"transform": [{"fold": ["a"]}], "mark": {"type": "point", "shape": "diamond", "filled": true, "fill": "#2e3a92", "stroke": "#7781b8", "strokeWidth": 0.7, "size": 78, "opacity": 1}},
  {"data": {"name": "labels"}, "transform": [{"filter": "datum.p == 'D' && datum.name != 'c'"}], "mark": {"type": "text", "align": "left", "baseline": "middle", "fontSize": 19, "fontWeight": "bold"}, "encoding": {"text": {"field": "main"}, "color": {"field": "name", "type": "nominal", "legend": null, "scale": {"domain": ["K","XBDO","BD","MEK","IBA","OL","BTO","CA","BDOn","Actn","BT","M2","a","b","c","d"], "range": ["#000000","#000000","#f04e23","#c2439a","#13a54a","#2e3192","#21b3a3","#2e3192","#8f8c0e","#c41230","#f26449","#13a54a","#2e3192","#13a54a","#000000","#c2439a"]}}}},
  {"data": {"name": "labels"}, "transform": [{"filter": "datum.p == 'D' && datum.name == 'c'"}], "mark": {"type": "text", "align": "left", "baseline": "middle", "fontSize": 15, "color": "#000"}, "encoding": {"text": {"field": "main"}}}
]
}
],
"columns": 2,
"align": "none",
"spacing": {"row": 20, "column": 60}
}
